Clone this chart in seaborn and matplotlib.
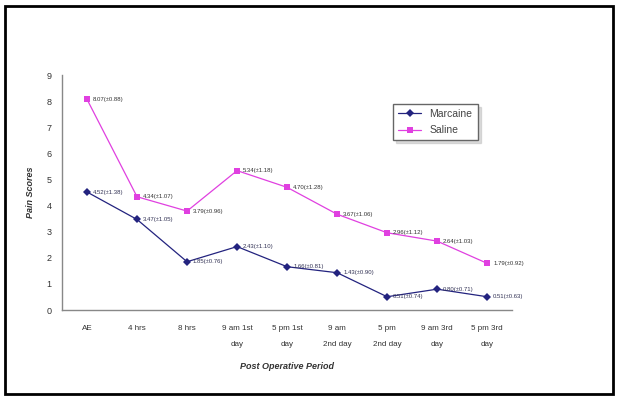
import pandas as pd
import seaborn as sns
import matplotlib.pyplot as plt
from matplotlib.patches import Rectangle

# data
periods = ['AE', '4 hrs', '8 hrs', '9 am 1st\nday', '5 pm 1st\nday', '9 am\n2nd day',
           '5 pm\n2nd day', '9 am 3rd\nday', '5 pm 3rd\nday']
marcaine = [4.52, 3.47, 1.85, 2.43, 1.66, 1.43, 0.51, 0.80, 0.51]
saline = [8.07, 4.34, 3.79, 5.34, 4.70, 3.67, 2.96, 2.64, 1.79]
marcaine_labels = ['4.52(±1.38)', '3.47(±1.05)', '1.85(±0.76)', '2.43(±1.10)', '1.66(±0.81)',
                   '1.43(±0.90)', '0.51(±0.74)', '0.80(±0.71)', '0.51(±0.63)']
saline_labels = ['8.07(±0.88)', '4.34(±1.07)', '3.79(±0.96)', '5.34(±1.18)', '4.70(±1.28)',
                 '3.67(±1.06)', '2.96(±1.12)', '2.64(±1.03)', '1.79(±0.92)']

df = pd.DataFrame({
    'period': periods * 2,
    'score': marcaine + saline,
    'group': ['Marcaine'] * len(periods) + ['Saline'] * len(periods),
})

sns.set_style('white')
plt.rcParams['font.family'] = ['Liberation Sans', 'DejaVu Sans']

fig = plt.figure(figsize=(6.17, 3.97), dpi=100)
ax = fig.add_axes([0.1005, 0.219, 0.7295, 0.592])

colors = {'Marcaine': '#23237f', 'Saline': '#e040e0'}
markers = {'Marcaine': 'D', 'Saline': 's'}
sns.lineplot(data=df, x='period', y='score', hue='group', style='group',
             palette=colors, markers=markers, dashes=False, markersize=3.8,
             linewidth=0.9, markeredgewidth=0, ax=ax, sort=False)

# small value labels next to each point
for i, (v, t) in enumerate(zip(marcaine, marcaine_labels)):
    ax.text(i + 0.12, v, t, fontsize=4.3, color='#333355', va='center')
for i, (v, t) in enumerate(zip(saline, saline_labels)):
    ax.text(i + 0.12, v, t, fontsize=4.3, color='#333333', va='center')

ax.set_xlim(-0.5, len(periods) - 0.5)
ax.set_ylim(0, 9)
ax.set_yticks(range(0, 10))
ax.set_xticks(range(len(periods)))
ax.set_xticklabels(periods, fontsize=5.8, color='#333333', linespacing=2.7)
ax.set_xticks([i + 0.5 for i in range(-1, len(periods))], minor=True)
ax.tick_params(axis='x', which='major', length=0, pad=11)
ax.tick_params(axis='x', which='minor', length=3, direction='inout', color='#777777', width=0.8)
ax.tick_params(axis='y', length=3, direction='inout', color='#777777', width=0.8,
               labelsize=6.5, labelcolor='#333333', pad=6)

ax.set_xlabel('Post Operative Period', fontsize=6.5, style='italic', fontweight='bold',
              color='#333333', labelpad=10)
ax.set_ylabel('Pain Scores', fontsize=6.5, style='italic', fontweight='bold',
              color='#333333', labelpad=8)

sns.despine(ax=ax)
for s in ['left', 'bottom']:
    ax.spines[s].set_color('#888888')
    ax.spines[s].set_linewidth(1.0)

leg = ax.legend(title=None, loc='upper left', bbox_to_anchor=(0.724, 0.90),
                fontsize=7.5, frameon=True, fancybox=False, shadow={'color': '#bbbbbb'},
                edgecolor='#666666', handlelength=2.2, borderpad=0.5, labelspacing=0.6)
for txt in leg.get_texts():
    txt.set_color('#444444')

# outer frame around the whole picture
fig.patches.append(Rectangle((0.008, 0.008), 0.985, 0.978, transform=fig.transFigure,
                             fill=False, edgecolor='black', linewidth=2))

fig.savefig('out.png', dpi=100)
